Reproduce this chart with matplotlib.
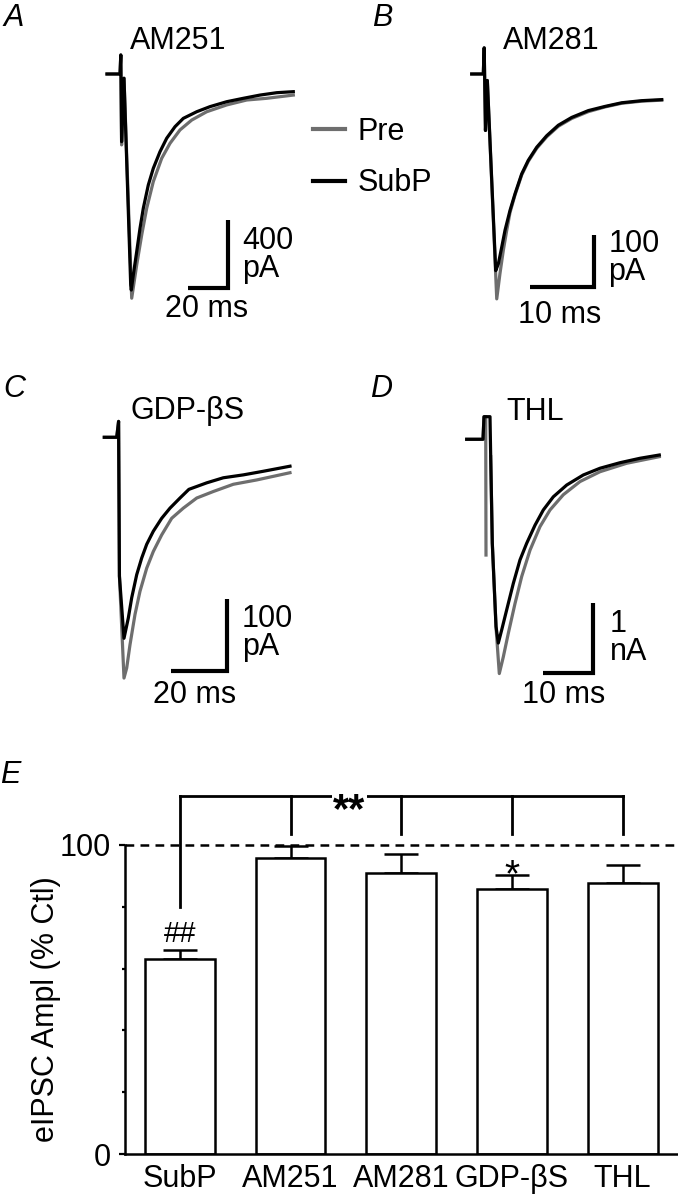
import numpy as np
import matplotlib
matplotlib.use('Agg')
from matplotlib import pyplot as plt
from matplotlib.lines import Line2D

plt.rcParams['font.family'] = ['Liberation Sans', 'DejaVu Sans']

W, H = 678, 1200
GRAY = '#6e6e6e'

# ---- traces (time in ms, current in pA / nA) ----
# A: AM251
A_pre_t = [0, 6.5, 6.9, 7.3, 8.5, 12.35, 14.85, 17.35, 19.85, 23.15, 27.35, 31.5, 36.5, 42.35,
           49.85, 59.85, 69.85, 79.85, 93.15]
A_pre_i = [0, 0, 112, -417, -25, -1319, -1123, -947, -790, -633, -496, -408, -329, -271,
           -222, -182, -153, -143, -124]
A_sub_t = [0, 6.5, 6.9, 7.3, 8.5, 11.85, 12.15, 13.15, 14.85, 16.5, 18.15, 20.65, 23.15, 26.5,
           29.85, 34.0, 38.15, 44.85, 51.5, 59.85, 68.15, 76.5, 84.85, 93.15]
A_sub_i = [0, 0, 112, -398, -25, -1241, -1271, -1182, -1045, -908, -790, -653, -555, -457,
           -378, -310, -261, -222, -192, -163, -143, -124, -110, -104]

# B: AM281
B_pre_t = [0, 1.81, 1.95, 2.15, 2.44, 3.91, 4.42, 4.94, 5.47, 5.98, 6.77, 7.81, 8.84, 10.16,
           11.72, 13.53, 15.63, 18.22, 20.83, 23.44, 26.56, 29.69]
B_pre_i = [0, 0, 50, -108, -12.4, -430, -381, -337, -299, -265, -231, -193, -167, -142,
           -120, -100, -85, -72, -63, -56, -52, -50]
B_sub_t = [0, 1.81, 1.95, 2.15, 2.44, 3.75, 4.16, 4.69, 5.2, 5.98, 6.77, 7.81, 8.84, 10.16,
           11.72, 13.53, 15.63, 18.22, 20.83, 23.44, 26.56, 29.69]
B_sub_i = [0, 0, 50, -108, -12.4, -376, -363, -331, -299, -261, -229, -191, -165, -140,
           -118, -98, -83, -70, -62, -55, -51, -49]

# C: GDP-betaS
C_pre_t = [0, 4.43, 5.1, 5.4, 7.03, 8.0, 9.17, 10.96, 12.74, 15.14, 17.49, 20.49, 24.06,
           28.2, 32.99, 38.91, 46.05, 54.41, 66.29]
C_pre_i = [0, 0, 22, -192, -333, -319, -287, -245, -213, -181, -158, -135, -112,
           -98, -84, -75, -65, -59, -49]
C_sub_t = [0, 4.43, 5.1, 5.4, 7.03, 8.57, 9.78, 11.57, 13.35, 15.14, 17.49, 20.49, 23.45,
           27.02, 30.2, 36.56, 42.48, 49.62, 56.76, 66.29]
C_sub_i = [0, 0, 22, -192, -278, -250, -222, -190, -167, -148, -130, -112, -98,
           -84, -72, -63, -56, -52, -47, -40]

# D: THL (nA)
D_pre_t = [0, 3.26, 3.46, 3.8, 3.86, np.nan, 4.8, 5.12, 5.9, 6.52, 7.32, 8.32, 9.66, 11.0,
           12.66, 14.66, 16.66, 19.32, 22.66, 26.66, 32.0, 38.52]
D_pre_i = [0, 0, 0.326, 0.326, -1.67, np.nan, -0.251, -1.50, -2.75, -3.38, -3.14, -2.80, -2.37,
           -1.98, -1.60, -1.26, -1.02, -0.80, -0.61, -0.468, -0.346, -0.251]
D_sub_t = [0, 3.26, 3.46, 4.66, 4.8, 5.12, 5.86, 6.32, 7.0, 8.0, 9.32, 10.66, 12.0, 13.66,
           15.32, 17.32, 20.0, 23.32, 26.66, 30.66, 34.66, 38.52]
D_sub_i = [0, 0, 0.326, 0.326, -0.251, -1.50, -2.70, -2.94, -2.75, -2.46, -2.08, -1.74, -1.50,
           -1.24, -1.02, -0.83, -0.66, -0.515, -0.418, -0.338, -0.274, -0.227]

# ---- summary bars (E) ----
conds = ['SubP', 'AM251', 'AM281', 'GDP-\u03b2S', 'THL']
means = [63.2, 95.9, 91.0, 85.7, 87.6]
sems = [2.8, 3.9, 6.1, 4.6, 6.0]

fig = plt.figure(figsize=(W / 100, H / 100), dpi=100)
fs = 22


def rect(x0, y0, x1, y1):
    return [x0 / W, 1 - y1 / H, (x1 - x0) / W, (y1 - y0) / H]


def ftext(x, y, s, **kw):
    fig.text(x / W, 1 - y / H, s, va='baseline', **kw)


def trace_panel(box, xlim, ylim, pre, sub, bar, amp_txt, amp_pos, t_txt, t_pos):
    ax = fig.add_axes(rect(*box))
    ax.plot(pre[0], pre[1], color=GRAY, lw=2.3)
    ax.plot(sub[0], sub[1], color='k', lw=2.3)
    # scale bar: corner x, corner y, time length, amplitude length
    bx, by, bw, bh = bar
    ax.plot([bx - bw, bx, bx], [by, by, by + bh], color='k', lw=3,
            solid_capstyle='butt', solid_joinstyle='miter')
    # amp_pos is the baseline of the unit (second) line
    ax.text(*amp_pos, amp_txt, fontsize=fs, va='baseline', linespacing=0.9)
    ax.text(*t_pos, t_txt, fontsize=fs, va='baseline', ha='center')
    ax.set_xlim(*xlim)
    ax.set_ylim(*ylim)
    ax.axis('off')
    return ax


trace_panel((100, 40, 310, 330), (-3.5, 101.5), (-1506, 200),
            (A_pre_t, A_pre_i), (A_sub_t, A_sub_i),
            (60.5, -1258, 20, 400), '400\npA', (67.5, -1192), '20 ms', (49.85, -1428))
trace_panel((460, 40, 670, 330), (-1.83, 30.98), (-489.5, 65.0),
            (B_pre_t, B_pre_i), (B_sub_t, B_sub_i),
            (19.11, -407.8, 10, 100), '100\npA', (21.34, -393.9), '10 ms', (13.8, -475.5))
trace_panel((95, 390, 305, 720), (-3.32, 71.65), (-391, 65.4),
            (C_pre_t, C_pre_i), (C_sub_t, C_sub_i),
            (43.7, -323.2, 20, 100), '100\npA', (49.05, -301), '20 ms', (32.27, -367))
trace_panel((460, 390, 670, 720), (-1.34, 40.66), (-4.05, 0.711),
            (D_pre_t, D_pre_i), (D_sub_t, D_sub_i),
            (25.32, -3.365, 10, 1), '1\nnA', (28.66, -3.185), '10 ms', (19.46, -3.81))

# panel letters and titles
for x, y, s in [(3, 26, 'A'), (372, 26, 'B'), (3, 397, 'C'), (370, 397, 'D'), (0, 783, 'E')]:
    ftext(x, y, s, fontsize=fs, style='italic')
for x, y, s in [(130, 49, 'AM251'), (503, 49, 'AM281'), (131, 419, 'GDP-\u03b2S'), (506, 420, 'THL')]:
    ftext(x, y, s, fontsize=fs)

# legend
handles = [Line2D([], [], color=GRAY, lw=3), Line2D([], [], color='k', lw=3)]
fig.legend(handles, ['Pre', 'SubP'], loc='upper left',
           bbox_to_anchor=(313 / W, 1 - 117 / H), frameon=False, fontsize=fs,
           handlelength=1.05, handletextpad=0.4, labelspacing=0.7,
           borderpad=0, borderaxespad=0)

# ---- E: bar chart ----
ax = fig.add_axes([124.5 / W, 1 - 1154 / H, (W - 124.5) / W, 125 * 3.09 / H])
x = np.arange(len(conds))
ax.bar(x, means, width=0.63, color='white', edgecolor='k', linewidth=1.8, zorder=2)
ax.errorbar(x, means, yerr=[np.zeros(len(sems)), sems], fmt='none', ecolor='k',
            elinewidth=1.8, capsize=12, capthick=1.8, zorder=1)
ax.axhline(100, color='k', lw=1.8, ls=(0, (3.5, 2.5)), zorder=0)
ax.set_xlim(-0.5, 4.5)
ax.set_ylim(0, 125)
for s in ['top', 'right']:
    ax.spines[s].set_visible(False)
ax.spines['left'].set_bounds(0, 100)
ax.spines['left'].set_linewidth(1.8)
ax.spines['bottom'].set_linewidth(1.8)
ax.set_yticks([0, 100])
ax.set_yticks([20, 40, 60, 80], minor=True)
ax.tick_params(axis='y', which='major', length=4, width=1.6, pad=6, labelsize=fs)
ax.tick_params(axis='y', which='minor', length=2, width=1.6)
ax.set_xticks(x)
ax.set_xticklabels(conds)
ax.tick_params(axis='x', length=0, pad=7, labelsize=fs)
ax.set_ylabel('eIPSC Ampl (% Ctl)', fontsize=fs)
ax.yaxis.set_label_coords(-0.115, 0.376)

# significance bracket
ax.plot([0, 0], [80, 116], color='k', lw=2, clip_on=False)
ax.plot([0, 4], [116, 116], color='k', lw=2, clip_on=False)
for xi in x[1:]:
    ax.plot([xi, xi], [103.5, 116], color='k', lw=2, clip_on=False)
ax.text(1.53, 107.5, '**', fontsize=30, fontweight='bold', ha='center', va='baseline',
        bbox=dict(facecolor='white', edgecolor='none', pad=1))
ax.text(0, 68.7, '##', fontsize=21, ha='center', va='baseline')
ax.text(3, 86.6, '*', fontsize=28, ha='center', va='baseline')

fig.savefig('out.png', dpi=100)
